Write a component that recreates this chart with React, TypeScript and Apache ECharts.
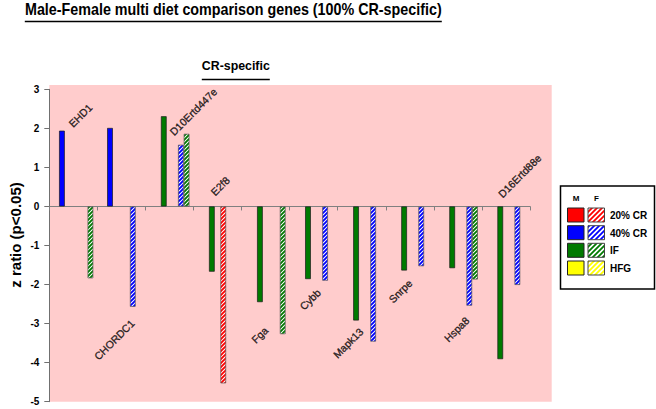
import React, { useEffect, useRef } from "react";
import * as echarts from "echarts";

// ---------- data ----------
const genes = ["EHD1", "CHORDC1", "D10Ertd447e", "E2f8", "Fga", "Cybb", "Mapk13", "Snrpe", "Hspa8", "D16Ertd88e"];
const cr20M = [null, null, null, null, null, null, null, null, null, null];
const cr40M = [1.94, 2.01, null, null, null, null, null, null, null, null];
const ifM = [null, null, 2.31, -1.67, -2.45, -1.86, -2.92, -1.64, -1.58, -3.91];
const hfgM = [null, null, null, null, null, null, null, null, null, null];
const cr20F = [null, null, null, -4.53, null, null, null, null, null, null];
const cr40F = [null, -2.57, 1.58, null, null, -1.9, -3.46, -1.53, -2.54, -2.01];
const ifF = [-1.84, null, 1.86, null, -3.27, null, null, null, -1.87, null];
// gene label anchors (category units along x, z ratio along y)
const labelX = [0.447, 0.976, 2.548, 3.401, 4.248, 5.253, 5.948, 7.104, 8.257, 9.38];
const labelY = [2.07, -3.89, 1.86, 0.32, -3.46, -2.61, -3.84, -2.43, -3.43, 0.27];
const yMin = -5;
const yMax = 3;
const yInterval = 1;
const legendNames = ["20% CR", "40% CR", "IF", "HFG"];
const legendColors = ["#FF0000", "#0000FF", "#007A00", "#FFFF00"];

const FONT = "'Liberation Sans', Arial, sans-serif";

function hatch(color: string, size = 4, lw = 1.9) {
  const c = document.createElement("canvas");
  c.width = size;
  c.height = size;
  const ctx = c.getContext("2d")!;
  ctx.fillStyle = "#ffffff";
  ctx.fillRect(0, 0, size, size);
  ctx.strokeStyle = color;
  ctx.lineWidth = lw;
  ctx.beginPath();
  ctx.moveTo(-1, size + 1);
  ctx.lineTo(size + 1, -1);
  ctx.moveTo(-1, 1);
  ctx.lineTo(1, -1);
  ctx.moveTo(size - 1, size + 1);
  ctx.lineTo(size + 1, size - 1);
  ctx.stroke();
  return { image: c, repeat: "repeat" } as any;
}

function measure(text: string, font: string) {
  const c = document.createElement("canvas");
  const ctx = c.getContext("2d")!;
  ctx.font = font;
  return ctx.measureText(text).width;
}

export default function App() {
  const ref = useRef<HTMLDivElement>(null);

  useEffect(() => {
    if (!ref.current) return;
    const chart = echarts.init(ref.current, null, { renderer: "svg" });

    const barW = 5.7;
    const solid = (name: string, data: any[], color: string) => ({
      type: "bar",
      name,
      data,
      barWidth: barW,
      barGap: "0%",
      itemStyle: { color, borderColor: "#1a1a1a", borderWidth: 0.7 },
    });
    const striped = (name: string, data: any[], color: string) => ({
      type: "bar",
      name,
      data,
      barWidth: barW,
      barGap: "0%",
      itemStyle: { color: hatch(color), borderColor: "#555", borderWidth: 0.7 },
    });

    const title = "Male-Female multi diet comparison genes (100% CR-specific)";
    const titleFont = `bold 16px ${FONT}`;
    const titleW = 417;
    const titleCx = 233.3;
    const titleScale = titleW / measure(title, titleFont);

    const sub = "CR-specific";
    const subFont = `bold 13px ${FONT}`;
    const subW = 68;
    const subCx = 235.8;
    const subScale = subW / measure(sub, subFont);

    const legendRows = [208, 225.7, 243.3, 261];
    const legendEls: any[] = [
      {
        type: "rect",
        shape: { x: 560.5, y: 186, width: 94, height: 103 },
        style: { fill: "#fff", stroke: "#000", lineWidth: 1.5 },
      },
      {
        type: "text",
        x: 576,
        y: 198,
        style: { text: "M", fontSize: 8, fontWeight: "bold", fontFamily: FONT, fill: "#000", align: "center", verticalAlign: "middle" },
      },
      {
        type: "text",
        x: 596.5,
        y: 198,
        style: { text: "F", fontSize: 8, fontWeight: "bold", fontFamily: FONT, fill: "#000", align: "center", verticalAlign: "middle" },
      },
    ];
    legendNames.forEach((n, i) => {
      const y = legendRows[i];
      legendEls.push({
        type: "rect",
        shape: { x: 567.5, y, width: 16.5, height: 14 },
        style: { fill: legendColors[i], stroke: "#222", lineWidth: 1 },
      });
      legendEls.push({
        type: "rect",
        shape: { x: 588, y, width: 16.5, height: 14 },
        style: { fill: hatch(legendColors[i], 5, 1.8), stroke: "#444", lineWidth: 1 },
      });
      legendEls.push({
        type: "text",
        x: 610,
        y: y + 7.5,
        style: { text: n, fontSize: 10, fontWeight: "bold", fontFamily: FONT, fill: "#000", align: "left", verticalAlign: "middle" },
      });
    });

    const option: any = {
      animation: false,
      backgroundColor: "#ffffff",
      grid: { left: 49.3, top: 89.3, width: 480.7, height: 312.4, containLabel: false },
      xAxis: [
        {
          type: "category",
          data: genes,
          boundaryGap: true,
          axisLine: { onZero: true, lineStyle: { color: "#808080", width: 1.2 } },
          axisTick: { show: true, inside: false, length: 4, interval: 0, lineStyle: { color: "#808080" } },
          axisLabel: { show: false },
          splitLine: { show: false },
        },
        { type: "value", min: 0, max: 10, show: false },
      ],
      yAxis: {
        type: "value",
        min: yMin,
        max: yMax,
        interval: yInterval,
        axisLine: { show: true, lineStyle: { color: "#707070", width: 1 } },
        axisTick: { show: true, length: 5, lineStyle: { color: "#707070" } },
        axisLabel: { margin: 10, fontSize: 10, fontWeight: "bold", fontFamily: FONT, color: "#000" },
        splitLine: { show: false },
      },
      series: [
        solid("20% CR M", cr20M, "#FF0000"),
        solid("40% CR M", cr40M, "#0000FF"),
        solid("IF M", ifM, "#007A00"),
        solid("HFG M", hfgM, "#FFFF00"),
        striped("20% CR F", cr20F, "#FF0000"),
        striped("40% CR F", cr40F, "#0000FF"),
        striped("IF F", ifF, "#007A00"),
        {
          type: "scatter",
          name: "genes",
          xAxisIndex: 1,
          yAxisIndex: 0,
          symbolSize: 0,
          silent: true,
          z: 5,
          data: genes.map((g, i) => [labelX[i], labelY[i], g]),
          label: {
            show: true,
            position: "right",
            distance: 0,
            rotate: 45,
            align: "left",
            verticalAlign: "middle",
            fontSize: 10.5,
            fontFamily: FONT,
            color: "#000",
            textBorderColor: "#000",
            textBorderWidth: 0.35,
            formatter: (p: any) => p.data[2],
          },
        },
      ],
      graphic: [
        {
          type: "rect",
          z: -10,
          shape: { x: 49.3, y: 85, width: 502.4, height: 316.7 },
          style: { fill: "#FFCCCC" },
        },
        {
          type: "text",
          x: titleCx,
          y: 9,
          scaleX: titleScale,
          style: { text: title, font: titleFont, fill: "#000", align: "center", verticalAlign: "middle" },
        },
        {
          type: "line",
          shape: { x1: titleCx - titleW / 2, y1: 21.5, x2: titleCx + titleW / 2, y2: 21.5 },
          style: { stroke: "#000", lineWidth: 1.5 },
        },
        {
          type: "text",
          x: subCx,
          y: 65.5,
          scaleX: subScale,
          style: { text: sub, font: subFont, fill: "#000", align: "center", verticalAlign: "middle" },
        },
        {
          type: "line",
          shape: { x1: subCx - subW / 2, y1: 79.5, x2: subCx + subW / 2, y2: 79.5 },
          style: { stroke: "#000", lineWidth: 1.3 },
        },
        {
          type: "text",
          x: 15,
          y: 235,
          rotation: Math.PI / 2,
          style: {
            text: "z ratio (p<0.05)",
            fontSize: 15,
            fontWeight: "bold",
            fontFamily: FONT,
            fill: "#000",
            align: "center",
            verticalAlign: "middle",
          },
        },
        ...legendEls,
      ],
    };

    chart.setOption(option);
    return () => chart.dispose();
  }, []);

  return (
    <div
      ref={ref}
      style={{ position: "fixed", left: 0, top: 0, width: 656, height: 409, background: "#fff" }}
    />
  );
}
